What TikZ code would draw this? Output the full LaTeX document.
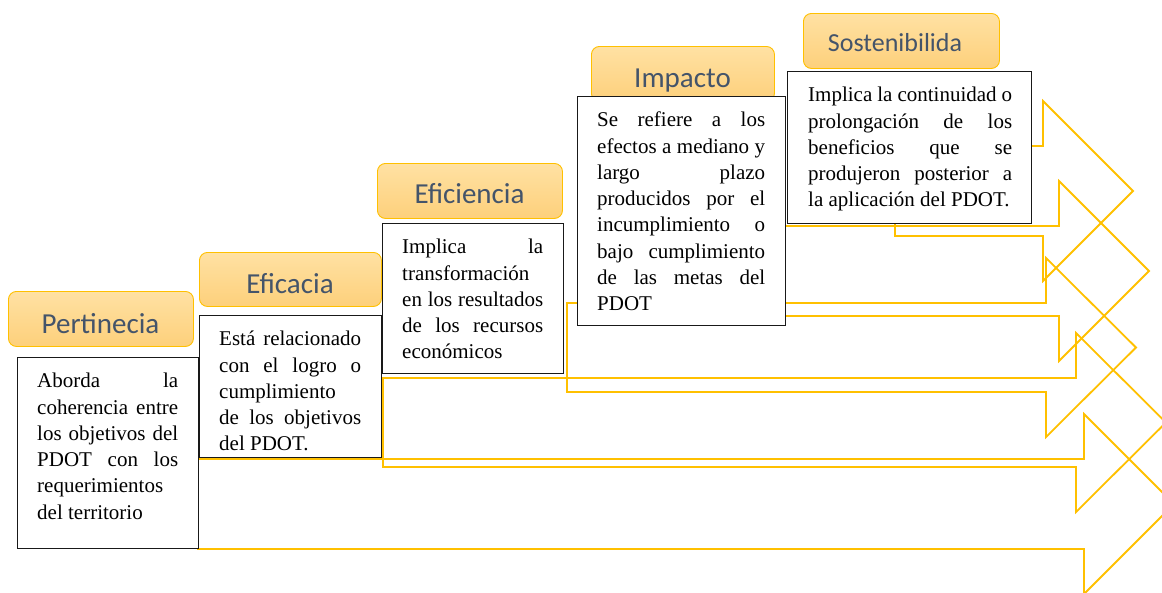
\documentclass[tikz,border=0pt]{standalone}
\usepackage{fontspec}
\setmainfont{Liberation Serif}
\newfontfamily\lblfont{Carlito}
\definecolor{arrowc}{HTML}{FFC000}
\definecolor{lbltxt}{HTML}{44546A}
\definecolor{lbltop}{HTML}{FFE1A3}
\definecolor{lblbot}{HTML}{FDD07B}
\definecolor{lblborder}{HTML}{FFC000}
\newcommand\jl[1]{\hbox to\hsize{#1}}
\newcommand\jlast[1]{\hbox to\hsize{#1\hfil}}
\newcommand\fs{\rule{0pt}{30.5pt}}
\newcommand\bodyfont{\fontsize{21}{26.3}\selectfont}
\begin{document}
\begin{tikzpicture}[x=1pt,y=-1pt,
 bigarrow/.style={draw=arrowc, line width=1.8pt, line join=miter},
 lblbox/.style={rounded corners=8pt, draw=lblborder, line width=0.9pt, top color=lbltop, bottom color=lblbot, inner sep=0, anchor=north west},
 lbltext/.style={font=\lblfont\fontsize{29}{31}\selectfont, text=lbltxt, inner sep=0, anchor=base},
 txtbox/.style={draw=black!90, line width=1.4pt, fill=white, inner sep=0, anchor=north west},
 bodytext/.style={inner sep=0, anchor=north west, font=\bodyfont}]
\useasboundingbox (0,0) rectangle (1162,592);
\clip (0,0) rectangle (1162,592);
% block arrows
\draw[bigarrow] (198,459) -- (1084,459) -- (1084,414) -- (1174,504) -- (1084,594) -- (1084,549) -- (198,549) -- cycle;
\draw[bigarrow] (383,378) -- (1076,378) -- (1076,333) -- (1166,422.5) -- (1076,512) -- (1076,467) -- (383,467) -- cycle;
\draw[bigarrow] (567,303) -- (1046,303) -- (1046,258) -- (1136,347.5) -- (1046,437) -- (1046,392) -- (567,392) -- cycle;
\draw[bigarrow] (785,226) -- (1059,226) -- (1059,181) -- (1149,271) -- (1059,361) -- (1059,316) -- (785,316) -- cycle;
\draw[bigarrow] (895,146) -- (1043,146) -- (1043,101) -- (1133,191) -- (1043,281) -- (1043,236) -- (895,236) -- cycle;
% labels
\node[lblbox, minimum width=185, minimum height=55] (l1) at (8,291) {};
\node[lbltext] (l1t) at (100.5,333) {Pertinecia};
\node[lblbox, minimum width=182, minimum height=54] (l2) at (199,252) {};
\node[lbltext] (l2t) at (290,293) {Eficacia};
\node[lblbox, minimum width=185, minimum height=55] (l3) at (377,163) {};
\node[lbltext] (l3t) at (469.5,203) {Eficiencia};
\node[lblbox, minimum width=183, minimum height=55] (l4) at (591,46) {};
\node[lbltext] (l4t) at (682.5,87) {Impacto};
\node[lblbox, minimum width=196, minimum height=55] (l5) at (803,13) {};
\node[lbltext, font=\lblfont\fontsize{26}{28}\selectfont] (l5t) at (895,51) {Sostenibilida};
% text boxes
\node[txtbox, minimum width=181, minimum height=191] (b1) at (17,357) {};
\node[bodytext] (t1) at (37,357) {\vbox{\hsize=141pt
 \jl{\fs Aborda la}
 \jl{coherencia entre}
 \jl{los objetivos del}
 \jl{PDOT con los}
 \jlast{requerimientos}
 \jlast{del territorio}}};
\node[txtbox, minimum width=182, minimum height=142] (b2) at (199,315) {};
\node[bodytext] (t2) at (219,315) {\vbox{\hsize=142pt
 \jl{\fs Está relacionado}
 \jl{con el logro o}
 \jlast{cumplimiento}
 \jl{de los objetivos}
 \jlast{del PDOT.}}};
\node[txtbox, minimum width=181, minimum height=150] (b3) at (382,223) {};
\node[bodytext] (t3) at (402,223) {\vbox{\hsize=141pt
 \jl{\fs Implica la}
 \jlast{transformación}
 \jl{en los resultados}
 \jl{de los recursos}
 \jlast{económicos}}};
\node[txtbox, minimum width=208, minimum height=229] (b4) at (577,96) {};
\node[bodytext] (t4) at (597,96) {\vbox{\hsize=168pt
 \jl{\fs Se refiere a los}
 \jl{efectos a mediano y}
 \jl{largo plazo}
 \jl{producidos por el}
 \jl{incumplimiento o}
 \jl{bajo cumplimiento}
 \jl{de las metas del}
 \jlast{PDOT}}};
\node[txtbox, minimum width=244, minimum height=152] (b5) at (787,71) {};
\node[bodytext] (t5) at (808,71) {\vbox{\hsize=204pt
 \jl{\fs Implica la continuidad o}
 \jl{prolongación de los}
 \jl{beneficios que se}
 \jl{produjeron posterior a}
 \jlast{la aplicación del PDOT.}}};
\end{tikzpicture}
\end{document}
